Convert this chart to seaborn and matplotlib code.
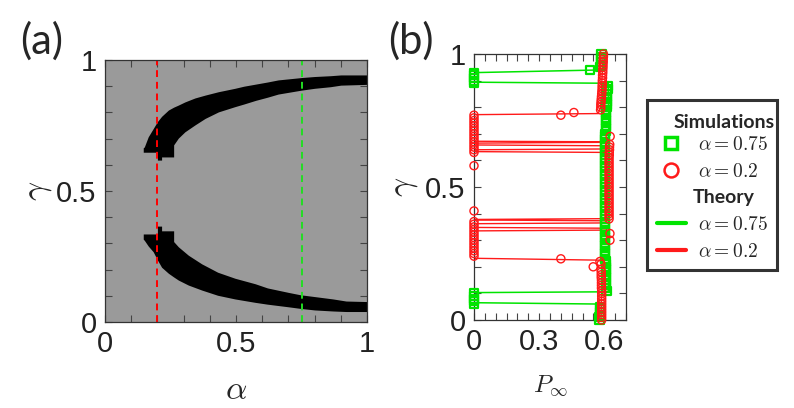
import numpy as np
import pandas as pd
import matplotlib
matplotlib.use("Agg")
import matplotlib.pyplot as plt
from matplotlib.lines import Line2D
import seaborn as sns

# ---------------- data: panel (a) phase diagram (black = P_inf = 0 region) ----------
alpha_up = [0.146, 0.150, 0.165, 0.185, 0.200, 0.200, 0.216, 0.216, 0.242, 0.262, 0.262,
            0.280, 0.305, 0.343, 0.382, 0.433, 0.496, 0.530, 0.575, 0.620, 0.661, 0.750,
            0.800, 0.860, 0.900, 1.000]
up_lo = [0.648, 0.648, 0.648, 0.648, 0.648, 0.618, 0.618, 0.630, 0.630, 0.630, 0.676,
         0.702, 0.726, 0.752, 0.777, 0.802, 0.822, 0.832, 0.846, 0.858, 0.870, 0.885,
         0.892, 0.898, 0.904, 0.907]
up_hi = [0.665, 0.668, 0.707, 0.740, 0.765, 0.765, 0.785, 0.785, 0.809, 0.820, 0.820,
         0.828, 0.840, 0.855, 0.866, 0.879, 0.892, 0.900, 0.908, 0.916, 0.924, 0.933,
         0.937, 0.940, 0.943, 0.943]

alpha_lo = [0.146, 0.150, 0.165, 0.184, 0.200, 0.200, 0.216, 0.216, 0.242, 0.262, 0.262,
            0.280, 0.318, 0.369, 0.430, 0.496, 0.573, 0.620, 0.700, 0.745, 0.800, 0.870,
            0.920, 1.000]
lo_hi = [0.336, 0.336, 0.336, 0.336, 0.336, 0.366, 0.366, 0.348, 0.348, 0.348, 0.307,
         0.287, 0.255, 0.222, 0.190, 0.167, 0.146, 0.130, 0.113, 0.104, 0.097, 0.088,
         0.080, 0.078]
lo_lo = [0.316, 0.312, 0.290, 0.268, 0.237, 0.237, 0.209, 0.209, 0.186, 0.172, 0.172,
         0.160, 0.141, 0.122, 0.102, 0.088, 0.075, 0.068, 0.058, 0.052, 0.046, 0.042,
         0.040, 0.040]

alpha_cuts = [0.2, 0.75]

# ---------------- data: panel (b) ----------------
# simulations, alpha = 0.75 (squares)
gamma_sim_075 = [0.00, 0.01, 0.02, 0.03, 0.04, 0.05,
                 0.06, 0.07, 0.08, 0.09, 0.10,
                 0.11, 0.12, 0.13, 0.14, 0.15, 0.16, 0.17, 0.18, 0.19, 0.20,
                 0.21, 0.22, 0.23, 0.24, 0.25, 0.26, 0.27, 0.28, 0.29, 0.30,
                 0.31, 0.32, 0.33, 0.34, 0.35, 0.36, 0.37, 0.38, 0.39, 0.40,
                 0.41, 0.42, 0.43, 0.44, 0.45, 0.46, 0.47, 0.48, 0.49, 0.50,
                 0.51, 0.52, 0.53, 0.54, 0.55, 0.56, 0.57, 0.58, 0.59, 0.60,
                 0.61, 0.62, 0.63, 0.64, 0.65, 0.66, 0.67, 0.68, 0.69, 0.70,
                 0.71, 0.72, 0.73, 0.74, 0.75, 0.76, 0.77, 0.78, 0.79, 0.80,
                 0.81, 0.82, 0.83, 0.84, 0.85, 0.86, 0.87, 0.88,
                 0.89, 0.90, 0.91, 0.92, 0.93,
                 0.94,
                 0.95, 0.96, 0.97, 0.98, 0.99, 1.00]
P_sim_075 = [0.578, 0.578, 0.579, 0.580, 0.580, 0.581,
             0.0, 0.0, 0.0, 0.0, 0.0,
             0.610, 0.609, 0.609, 0.608, 0.608, 0.607, 0.607, 0.607, 0.606, 0.606,
             0.606, 0.606, 0.605, 0.605, 0.605, 0.605, 0.605, 0.605, 0.605, 0.605,
             0.605, 0.605, 0.605, 0.605, 0.605, 0.605, 0.605, 0.605, 0.605, 0.605,
             0.605, 0.605, 0.605, 0.605, 0.605, 0.605, 0.605, 0.605, 0.605, 0.605,
             0.605, 0.605, 0.605, 0.605, 0.605, 0.605, 0.605, 0.605, 0.605, 0.605,
             0.605, 0.605, 0.605, 0.605, 0.605, 0.605, 0.605, 0.605, 0.605, 0.605,
             0.606, 0.606, 0.606, 0.607, 0.607, 0.608, 0.608, 0.609, 0.609, 0.610,
             0.610, 0.611, 0.611, 0.612, 0.613, 0.614, 0.615, 0.616,
             0.0, 0.0, 0.0, 0.0, 0.0,
             0.534,
             0.582, 0.583, 0.584, 0.585, 0.586, 0.587]

# simulations, alpha = 0.2 (circles)
gamma_sim_02 = [0.00, 0.01, 0.02, 0.03, 0.04, 0.05, 0.06, 0.07, 0.08, 0.09,
                0.10, 0.11, 0.12, 0.13, 0.14, 0.15, 0.16, 0.17, 0.18, 0.19,
                0.20, 0.21, 0.22, 0.23,
                0.24, 0.25, 0.26, 0.27, 0.28, 0.29, 0.30, 0.31, 0.32, 0.33,
                0.34, 0.35, 0.36, 0.37,
                0.300, 0.325,
                0.38, 0.39, 0.40, 0.41, 0.42, 0.43, 0.44, 0.45, 0.46, 0.47,
                0.48, 0.49, 0.50, 0.51, 0.52, 0.53, 0.54, 0.55, 0.56, 0.57,
                0.58, 0.59, 0.60, 0.61, 0.62, 0.63, 0.64, 0.65, 0.66,
                0.41, 0.58,
                0.63, 0.64, 0.65, 0.66, 0.67, 0.68, 0.69, 0.70, 0.71, 0.72,
                0.73, 0.74, 0.75, 0.76, 0.77,
                0.69,
                0.77, 0.78,
                0.79, 0.80, 0.81, 0.82, 0.83, 0.84, 0.85, 0.86, 0.87, 0.88,
                0.89, 0.90, 0.91, 0.92, 0.93, 0.94, 0.95, 0.96, 0.97, 0.98,
                0.99, 1.00]
P_sim_02 = [0.588, 0.588, 0.588, 0.588, 0.588, 0.588, 0.588, 0.588, 0.588, 0.588,
            0.588, 0.588, 0.587, 0.587, 0.587, 0.587, 0.586, 0.586, 0.586, 0.585,
            0.549, 0.585, 0.580, 0.400,
            0.0, 0.0, 0.0, 0.0, 0.0, 0.0, 0.0, 0.0, 0.0, 0.0,
            0.0, 0.0, 0.0, 0.0,
            0.626, 0.626,
            0.622, 0.622, 0.622, 0.622, 0.622, 0.622, 0.622, 0.622, 0.622, 0.622,
            0.622, 0.622, 0.622, 0.622, 0.622, 0.622, 0.622, 0.622, 0.622, 0.622,
            0.622, 0.622, 0.622, 0.622, 0.623, 0.623, 0.624, 0.624, 0.625,
            0.0, 0.0,
            0.0, 0.0, 0.0, 0.0, 0.0, 0.0, 0.0, 0.0, 0.0, 0.0,
            0.0, 0.0, 0.0, 0.0, 0.0,
            0.627,
            0.400, 0.460,
            0.583, 0.584, 0.584, 0.585, 0.586, 0.587, 0.588, 0.589, 0.590, 0.590,
            0.591, 0.591, 0.592, 0.592, 0.593, 0.593, 0.594, 0.594, 0.595, 0.595,
            0.596, 0.596]

# theory curves (connected in the order given)
P_th_075 = [0.575, 0.574, 0.572, 0.0, 0.0, 0.618, 0.620, 0.622, 0.624, 0.622, 0.620,
            0.618, 0.0, 0.0, 0.580, 0.580]
gamma_th_075 = [0.000, 0.030, 0.060, 0.065, 0.103, 0.106, 0.200, 0.350, 0.500, 0.650,
                0.800, 0.890, 0.894, 0.930, 0.940, 1.000]

P_th_02 = [0.585, 0.590, 0.580, 0.0, 0.0, 0.610, 0.610, 0.0, 0.0, 0.610, 0.610, 0.0,
           0.0, 0.610, 0.615, 0.610, 0.0, 0.0, 0.610, 0.610, 0.0, 0.0, 0.610, 0.610,
           0.0, 0.0, 0.572, 0.583, 0.595]
gamma_th_02 = [0.000, 0.200, 0.225, 0.232, 0.335, 0.338, 0.345, 0.348, 0.362, 0.365,
               0.373, 0.376, 0.378, 0.381, 0.500, 0.630, 0.633, 0.640, 0.643, 0.655,
               0.658, 0.665, 0.668, 0.670, 0.672, 0.772, 0.776, 0.800, 1.000]

a_ticks = [0, 0.5, 1]
a_ticklabels = ["0", "0.5", "1"]
b_xticks = [0, 0.3, 0.6]
b_xticklabels = ["0", "0.3", "0.6"]

GREEN = "#00e400"
RED = "#ff1a1a"

# ---------------- style ----------------
sns.set_theme(style="white")
plt.rcParams["font.family"] = ["Liberation Sans", "DejaVu Sans"]
plt.rcParams["mathtext.fontset"] = "cm"

fig = plt.figure(figsize=(7.94, 4.08), dpi=100)
axA = fig.add_axes([105 / 794, 1 - 322 / 408, 262 / 794, 262 / 408])
axB = fig.add_axes([474 / 794, 1 - 320 / 408, 152 / 794, 266 / 408])

# ---------------- panel (a) ----------------
axA.set_facecolor("#9a9a9a")
axA.fill_between(alpha_up, up_lo, up_hi, color="black", linewidth=0)
axA.fill_between(alpha_lo, lo_lo, lo_hi, color="black", linewidth=0)
axA.axvline(alpha_cuts[0], color="#ff0000", ls=(0, (3.5, 2.5)), lw=1.4)
axA.axvline(alpha_cuts[1], color="#22dd22", ls=(0, (3.5, 2.5)), lw=1.4)
axA.set_xlim(0, 1)
axA.set_ylim(0, 1)
axA.set_xticks(a_ticks)
axA.set_xticklabels(a_ticklabels)
axA.set_yticks(a_ticks)
axA.set_yticklabels(a_ticklabels)
axA.set_xticks(np.arange(0, 1.01, 0.1), minor=True)
axA.set_yticks(np.arange(0, 1.01, 0.1), minor=True)
axA.set_xlabel(r"$\alpha$", fontsize=24, labelpad=12)
axA.set_ylabel(r"$\gamma$", fontsize=24, labelpad=2)

# ---------------- panel (b) ----------------
sns.lineplot(x=P_th_075, y=gamma_th_075, sort=False, estimator=None, color=GREEN,
             lw=1.1, ax=axB)
sns.lineplot(x=P_th_02, y=gamma_th_02, sort=False, estimator=None, color=RED,
             lw=1.0, ax=axB)
sns.scatterplot(x=P_sim_075, y=gamma_sim_075, marker="s", s=34, color=GREEN,
                facecolor="none", edgecolor=GREEN, linewidth=1.6, ax=axB,
                clip_on=False, zorder=3)
sns.scatterplot(x=P_sim_02, y=gamma_sim_02, marker="o", s=34, color=RED,
                facecolor="none", edgecolor=RED, linewidth=1.0, ax=axB,
                clip_on=False, zorder=4)
axB.set_xlim(0, 0.7)
axB.set_ylim(0, 1)
axB.set_xticks(b_xticks)
axB.set_xticklabels(b_xticklabels)
axB.set_yticks(a_ticks)
axB.set_yticklabels(a_ticklabels)
axB.set_xticks(np.arange(0, 0.701, 0.05), minor=True)
axB.set_yticks(np.arange(0, 1.01, 0.1), minor=True)
axB.set_xlabel(r"$P_{\infty}$", fontsize=18, labelpad=12)
axB.set_ylabel(r"$\gamma$", fontsize=24, labelpad=4)

for ax in (axA, axB):
    ax.tick_params(which="both", direction="in", top=True, right=True, bottom=True,
                   left=True, length=5, width=0.8, color="#444444", labelsize=21,
                   labelcolor="#222222", pad=6)
    for sp in ax.spines.values():
        sp.set_color("#333333")
        sp.set_linewidth(0.9)

# panel labels
fig.text(20 / 794, 1 - 41 / 408, "(a)", fontsize=30, family=["Lato", "DejaVu Sans"],
         va="center", ha="left")
fig.text(388 / 794, 1 - 41 / 408, "(b)", fontsize=30, family=["Lato", "DejaVu Sans"],
         va="center", ha="left")

# ---------------- legend ----------------
blank = Line2D([], [], ls="none")
handles = [blank,
           Line2D([], [], marker="s", color=GREEN, mfc="none", mew=2.5, ms=9, ls="none"),
           Line2D([], [], marker="o", color=RED, mfc="none", mew=1.8, ms=10, ls="none"),
           blank,
           Line2D([], [], color=GREEN, lw=3),
           Line2D([], [], color=RED, lw=3)]
labels = [" ", r"$\alpha = 0.75$", r"$\alpha = 0.2$", " ", r"$\alpha = 0.75$",
          r"$\alpha = 0.2$"]
leg = fig.legend(handles, labels, loc="upper left", bbox_to_anchor=(647 / 794, 1 - 100 / 408),
                 frameon=True, fancybox=False, edgecolor="black", fontsize=14,
                 handlelength=1.5, handletextpad=0.6, labelspacing=0.45,
                 borderpad=0.5, borderaxespad=0)
leg.get_frame().set_linewidth(2.2)
leg.set_zorder(5)
fig.text(724 / 794, 1 - 122 / 408, "Simulations", fontsize=14, fontweight="bold",
         family=["Lato", "DejaVu Sans"], ha="center", va="center", zorder=10)
fig.text(724 / 794, 1 - 197 / 408, "Theory", fontsize=14, fontweight="bold",
         family=["Lato", "DejaVu Sans"], ha="center", va="center", zorder=10)

fig.savefig("out.png", dpi=100)
